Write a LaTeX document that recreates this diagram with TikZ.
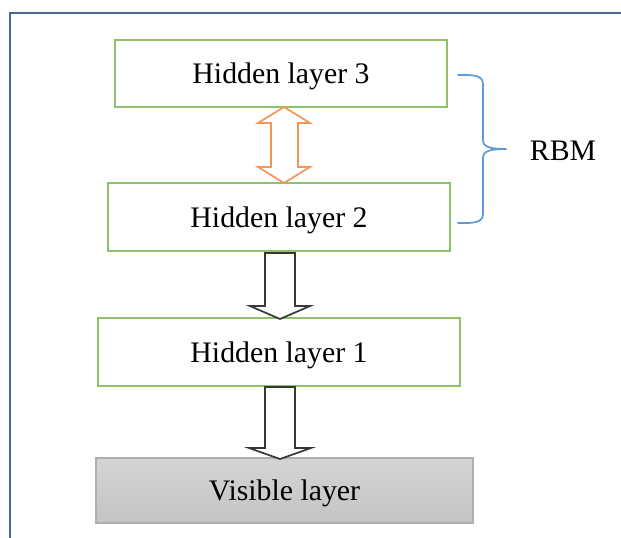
\documentclass[tikz,border=0pt]{standalone}
\usepackage{fontspec}
\setmainfont{Liberation Serif}
\begin{document}
\begin{tikzpicture}[x=1pt,y=-1pt,
  layerbox/.style={draw=boxgreen, line width=1.8pt, fill=white, inner sep=0pt,
    text depth=0pt, font=\fontsize{29.8}{36}\selectfont},
  visbox/.style={draw=visborder, line width=1.5pt, top color=visA, bottom color=visB,
    inner sep=0pt, text depth=0pt, font=\fontsize{29.8}{36}\selectfont},
  blockarrow/.style={draw=arrowgray, line width=1.7pt, fill=white, line join=miter},
  orangearrow/.style={draw=arroworange, line width=1.7pt, fill=white, line join=miter},
  framestyle/.style={draw=framecol, line width=2.6pt},
  bracestyle/.style={draw=bracecol, line width=1.7pt, line cap=round}]
\definecolor{boxgreen}{RGB}{141,194,107}
\definecolor{visborder}{RGB}{175,175,175}
\definecolor{visA}{RGB}{212,212,212}
\definecolor{visB}{RGB}{196,196,196}
\definecolor{arrowgray}{RGB}{55,55,55}
\definecolor{arroworange}{RGB}{244,150,90}
\definecolor{framecol}{RGB}{72,104,145}
\definecolor{bracecol}{RGB}{91,155,213}
\useasboundingbox (0,0) rectangle (621,538);
\fill[white] (0,0) rectangle (621,538);
% frame
\coordinate (fA) at (10,13);
\coordinate (fB) at (621,13);
\coordinate (fC) at (10,538);
\draw[framestyle, line join=miter] (fB) -- (fA) -- (fC);
% layer boxes
\node[layerbox, minimum width=332pt, minimum height=67pt] (h3) at (281,73.5) {Hidden layer 3};
\node[layerbox, minimum width=342pt, minimum height=68pt] (h2) at (279,217) {Hidden layer 2};
\node[layerbox, minimum width=362pt, minimum height=68pt] (h1) at (279,352) {Hidden layer 1};
\node[visbox, minimum width=377pt, minimum height=65pt] (vis) at (284.5,490.5) {Visible layer};
% orange double arrow between h3 and h2
\draw[orangearrow] (284,107) -- (310,123) -- (298,123) -- (298,167) -- (310,167) -- (284,183)
  -- (258,167) -- (271,167) -- (271,123) -- (258,123) -- cycle;
% block arrow h2 -> h1
\draw[blockarrow] (265,253) -- (295,253) -- (295,306) -- (310,306) -- (280,319)
  -- (250,306) -- (265,306) -- cycle;
% block arrow h1 -> visible
\draw[blockarrow] (265,387) -- (295,387) -- (295,448) -- (311,448) -- (280,459)
  -- (249,448) -- (265,448) -- cycle;
% brace
\coordinate (bt) at (458,75);
\coordinate (bb) at (458,223);
\coordinate (btip) at (506,149);
\draw[bracestyle] (bt) .. controls (470,75) and (483,74) .. (483,84) -- (483,140)
  .. controls (483,147) and (490,149) .. (btip);
\draw[bracestyle] (bb) .. controls (470,223) and (483,224) .. (483,214) -- (483,158)
  .. controls (483,151) and (490,149) .. (btip);
\node[font=\fontsize{29.8}{36}\selectfont, anchor=base, inner sep=0pt] (rbm) at (563,160) {RBM};
\end{tikzpicture}
\end{document}
